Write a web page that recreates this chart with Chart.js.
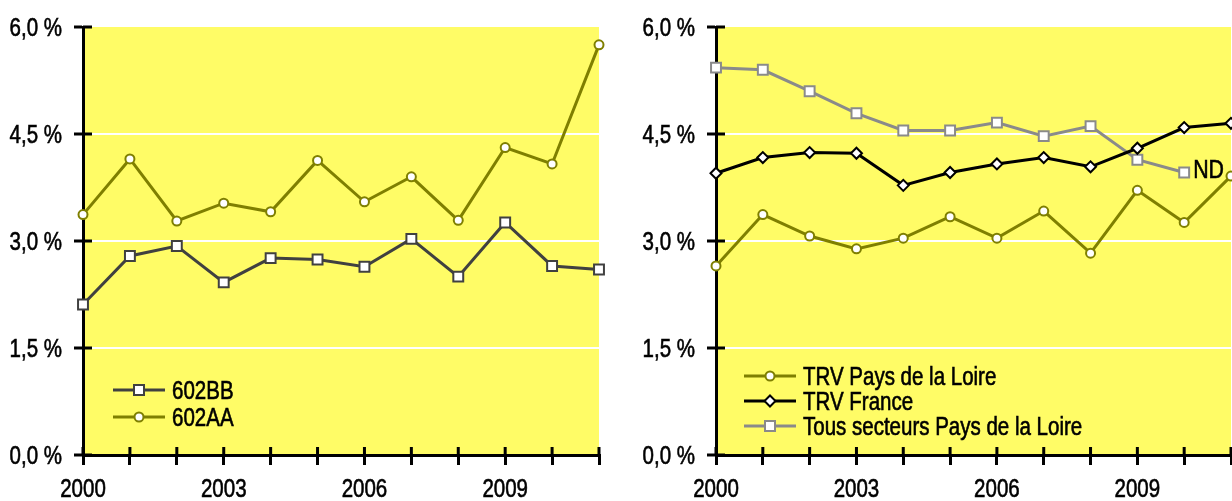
<!DOCTYPE html>
<html>
<head>
<meta charset="utf-8">
<script src="https://cdn.jsdelivr.net/npm/chart.js@4/dist/chart.umd.min.js"></script>
<style>
  html, body { margin: 0; padding: 0; background: #fff; }
  body { width: 1232px; height: 501px; position: relative; overflow: hidden; }
  .box { position: absolute; top: 0; }
</style>
</head>
<body>
<div class="box" style="left:0"><canvas id="left" width="620" height="501"></canvas></div>
<div class="box" style="left:620px"><canvas id="right" width="630" height="501"></canvas></div>
<script>
const years = ["2000", "2001", "2002", "2003", "2004", "2005", "2006", "2007", "2008", "2009", "2010", "2011"];
const yTicks = [0, 1.5, 3, 4.5, 6];

// graphique de gauche
const s602BB = [2.11, 2.79, 2.93, 2.42, 2.76, 2.74, 2.64, 3.03, 2.50, 3.26, 2.65, 2.60];
const s602AA = [3.37, 4.15, 3.28, 3.53, 3.41, 4.13, 3.55, 3.90, 3.29, 4.31, 4.08, 5.75];

// graphique de droite
const trvPdl = [2.65, 3.37, 3.07, 2.89, 3.04, 3.34, 3.04, 3.42, 2.83, 3.71, 3.26, 3.91];
const trvFrance = [3.95, 4.17, 4.24, 4.23, 3.78, 3.96, 4.08, 4.17, 4.04, 4.30, 4.59, 4.65];
const tousSecteurs = [5.43, 5.40, 5.10, 4.79, 4.55, 4.55, 4.66, 4.47, 4.61, 4.14, 3.96, null];
const ndLabel = "ND";

const FONT = "'Liberation Sans', Arial, sans-serif";
const SQUEEZE = 0.82;   // police étroite simulée
const YELLOW = "#fffc66";
const OLIVE = "#7f7f00";

function narrowText(ctx, text, x, y, align, size) {
  ctx.save();
  ctx.font = (size || 25) + "px " + FONT;
  ctx.fillStyle = "#000";
  ctx.strokeStyle = "#000";
  ctx.lineWidth = 0.6;
  ctx.textAlign = align;
  ctx.textBaseline = "alphabetic";
  ctx.translate(x, y);
  ctx.scale(SQUEEZE, 1);
  ctx.fillText(text, 0, 0);
  ctx.strokeText(text, 0, 0);
  ctx.restore();
}

function markerShape(ctx, style, x, y, color) {
  ctx.save();
  ctx.fillStyle = "#fff";
  ctx.strokeStyle = color;
  ctx.lineWidth = 2;
  ctx.beginPath();
  if (style === "circle") {
    ctx.arc(x, y, 4.5, 0, Math.PI * 2);
  } else if (style === "rect") {
    ctx.rect(x - 5, y - 5, 10, 10);
  } else {
    ctx.moveTo(x, y - 5.5);
    ctx.lineTo(x + 5.5, y);
    ctx.lineTo(x, y + 5.5);
    ctx.lineTo(x - 5.5, y);
    ctx.closePath();
  }
  ctx.fill();
  ctx.stroke();
  ctx.restore();
}

const decor = {
  id: "decor",
  beforeDraw(chart) {
    const a = chart.chartArea;
    const ctx = chart.ctx;
    ctx.save();
    ctx.fillStyle = YELLOW;
    ctx.fillRect(a.left, a.top, a.right - a.left, a.bottom - a.top);
    ctx.restore();
  },
  beforeDatasetsDraw(chart) {
    // partie intérieure des graduations (elles traversent l'axe)
    const a = chart.chartArea;
    const ctx = chart.ctx;
    const xs = chart.scales.x, ys = chart.scales.y;
    ctx.save();
    ctx.strokeStyle = "#000";
    ctx.lineWidth = 3;
    ctx.beginPath();
    years.forEach((_, i) => {
      const px = xs.getPixelForValue(i);
      ctx.moveTo(px, a.bottom);
      ctx.lineTo(px, a.bottom - 8);
    });
    yTicks.forEach(v => {
      const py = ys.getPixelForValue(v);
      ctx.moveTo(a.left, py);
      ctx.lineTo(a.left + 9, py);
    });
    ctx.stroke();
    ctx.restore();

    // libellés des axes
    yTicks.forEach(v => {
      const py = ys.getPixelForValue(v);
      narrowText(ctx, v.toFixed(1).replace(".", ",") + " %", a.left - 21, py + 9, "right");
    });
    years.forEach((y, i) => {
      if (i % 3 === 0) narrowText(ctx, y, xs.getPixelForValue(i), a.bottom + 42, "center");
    });
  },
  afterDatasetsDraw(chart, args, opts) {
    const ctx = chart.ctx;
    chart.data.datasets.forEach((ds, i) => {
      const y = opts.rows[i];
      ctx.save();
      ctx.strokeStyle = ds.borderColor;
      ctx.lineWidth = 3;
      ctx.beginPath();
      ctx.moveTo(opts.x0, y);
      ctx.lineTo(opts.x1, y);
      ctx.stroke();
      ctx.restore();
      markerShape(ctx, ds.pointStyle, (opts.x0 + opts.x1) / 2, y, ds.borderColor);
      narrowText(ctx, ds.label, opts.textX, y + 9, "left");
    });
    if (opts.nd !== undefined) {
      const ds = chart.data.datasets[opts.nd];
      let last = ds.data.length - 1;
      while (last >= 0 && ds.data[last] === null) last--;
      const px = chart.scales.x.getPixelForValue(last);
      const py = chart.scales.y.getPixelForValue(ds.data[last]);
      narrowText(ctx, ndLabel, px + 9, py + 5, "left", 26);
    }
  }
};

function series(label, data, color, style, radius) {
  return {
    label, data,
    borderColor: color,
    backgroundColor: color,
    borderWidth: 3,
    pointStyle: style,
    pointRadius: radius,
    pointHoverRadius: radius,
    pointBackgroundColor: "#fff",
    pointBorderColor: color,
    pointBorderWidth: 2,
    tension: 0,
    spanGaps: false,
    clip: false
  };
}

function makeOptions(axisWidth, rightPad, legendOpts) {
  return {
    responsive: false,
    animation: false,
    events: [],
    layout: { padding: { top: 27, right: rightPad, bottom: 0, left: 0 } },
    plugins: {
      legend: { display: false },
      tooltip: { enabled: false },
      decor: legendOpts
    },
    scales: {
      x: {
        type: "category",
        offset: false,
        afterFit: s => { s.height = 46; },
        grid: {
          drawOnChartArea: false,
          color: "#000",
          tickColor: "#000",
          lineWidth: 3,
          tickLength: 10
        },
        border: { color: "#000", width: 3 },
        ticks: { display: false, autoSkip: false, maxRotation: 0 }
      },
      y: {
        min: 0,
        max: 6,
        afterFit: s => { s.width = axisWidth; },
        afterBuildTicks: s => { s.ticks = yTicks.map(v => ({ value: v })); },
        grid: {
          color: c => (c.tick && (c.tick.value === 0 || c.tick.value === 6) ? "rgba(0,0,0,0)" : "#fff"),
          tickColor: "#000",
          lineWidth: 2,
          tickWidth: 3,
          tickLength: 9
        },
        border: { color: "#000", width: 3 },
        ticks: { display: false }
      }
    }
  };
}

new Chart(document.getElementById("left"), {
  type: "line",
  data: {
    labels: years,
    datasets: [
      series("602BB", s602BB, "#404040", "rect", 7),
      series("602AA", s602AA, OLIVE, "circle", 4.5)
    ]
  },
  options: makeOptions(83, 21, { x0: 113, x1: 165, textX: 172, rows: [390, 417] }),
  plugins: [decor]
});

new Chart(document.getElementById("right"), {
  type: "line",
  data: {
    labels: years,
    datasets: [
      series("TRV Pays de la Loire", trvPdl, OLIVE, "circle", 4.5),
      series("TRV France", trvFrance, "#000", "rectRot", 5.5),
      series("Tous secteurs Pays de la Loire", tousSecteurs, "#8a8a8a", "rect", 7)
    ]
  },
  options: makeOptions(96, 19, { x0: 124, x1: 176, textX: 183, rows: [376, 401, 426], nd: 2 }),
  plugins: [decor]
});
</script>
</body>
</html>
